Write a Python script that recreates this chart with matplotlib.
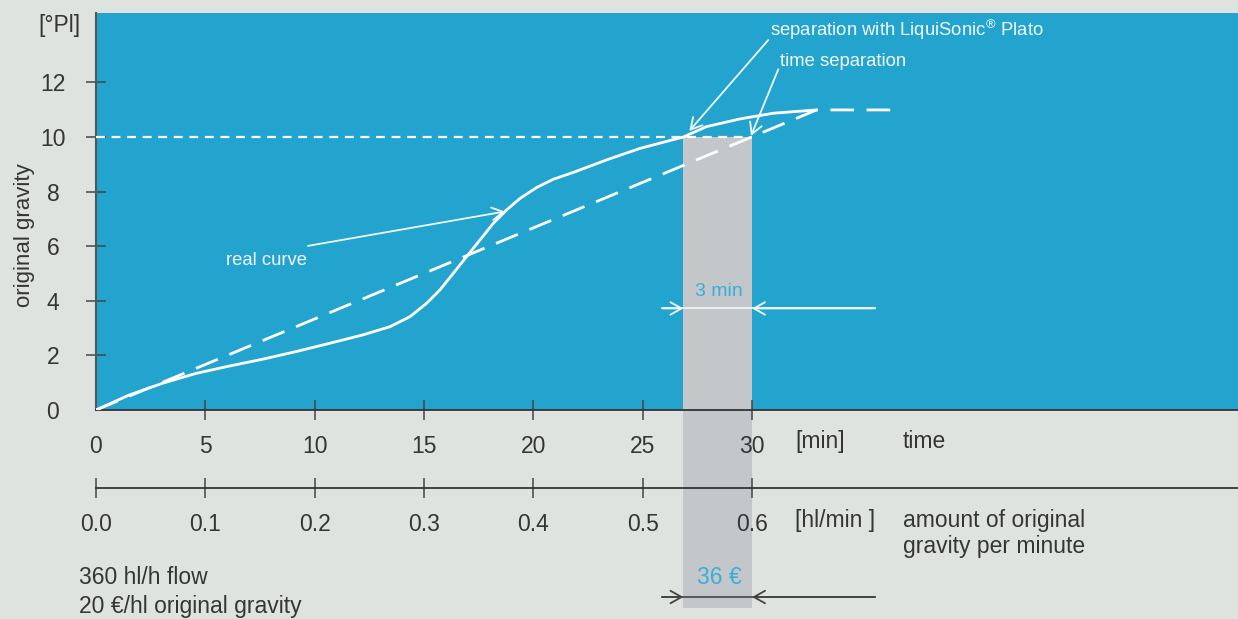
import matplotlib
matplotlib.use('Agg')
import matplotlib.pyplot as plt

plt.rcParams['font.family'] = ['Liberation Sans', 'DejaVu Sans']
plt.rcParams['mathtext.fontset'] = 'custom'
plt.rcParams['mathtext.rm'] = 'Liberation Sans'

# original gravity during lautering, [min] vs [°Pl]
t_real = [0, 1.52, 3.05, 4.57, 6.1, 7.62, 9.15, 10.67, 12.2, 13.44, 14.36,
          15.12, 15.73, 16.34, 16.95, 17.56, 18.17, 18.78, 19.39, 20.15,
          20.91, 21.82, 23.35, 24.87, 26.86, 27.92, 29.45, 30.97, 32.95]
og_real = [0, 0.55, 0.98, 1.34, 1.61, 1.86, 2.14, 2.44, 2.75, 3.05, 3.42,
           3.91, 4.40, 5.01, 5.62, 6.23, 6.84, 7.33, 7.75, 8.15,
           8.45, 8.70, 9.16, 9.58, 10.0, 10.38, 10.66, 10.87, 10.99]
# assumed linear rise used for time based separation
t_linear = [0, 32.95, 36.4]
og_linear = [0, 10.99, 10.99]

og_target = 10
t_sep_sensor = 26.86   # real curve reaches target
t_sep_time = 30.0      # fixed time separation

y_ticks = [0, 2, 4, 6, 8, 10, 12]
min_ticks = [0, 5, 10, 15, 20, 25, 30]
flow_ticks = [0.0, 0.1, 0.2, 0.3, 0.4, 0.5, 0.6]
min_per_flow = 50.0    # 0.1 hl/min per 5 min

BG = '#dfe3e0'
BLUE = '#22a4cf'
BAND = '#c4c7ca'
INK = '#353535'
WHITE = '#f2f9fc'
TXTBLUE = '#3aaedb'
FS = 16.5
FS_NOTE = 13.3

fig = plt.figure(figsize=(12.38, 6.19), dpi=100, facecolor=BG)
ax = fig.add_axes([96 / 1238, 209 / 619, 1142 / 1238, 397 / 619])
ax.set_facecolor(BLUE)
ax.set_xlim(0, 52.22)
ax.set_ylim(0, 14.54)

for s in ['top', 'right']:
    ax.spines[s].set_visible(False)
ax.spines['left'].set_color('#555555')
ax.spines['left'].set_linewidth(1.5)
ax.spines['bottom'].set_color('#333333')
ax.spines['bottom'].set_linewidth(1.3)

# y axis
ax.set_yticks(y_ticks)
ax.set_yticklabels([str(v) for v in y_ticks], ha='center')
ax.tick_params(axis='y', direction='inout', length=14, width=1.1, color='#444444',
               labelsize=FS, labelcolor=INK, pad=24)
ax.yaxis.get_major_ticks()[0].tick1line.set_visible(False)

# time axis
ax.set_xticks(min_ticks)
ax.set_xticklabels([str(v) for v in min_ticks])
ax.tick_params(axis='x', direction='inout', length=14, width=1.1, color='#444444',
               labelsize=FS, labelcolor=INK, pad=11)
ax.xaxis.get_major_ticks()[0].tick1line.set_visible(False)

# flow axis below
sec = ax.secondary_xaxis(-0.1965, functions=(lambda m: m / min_per_flow,
                                             lambda q: q * min_per_flow))
sec.set_xticks(flow_ticks)
sec.set_xticklabels(['%.1f' % v for v in flow_ticks])
sec.spines['bottom'].set_color('#333333')
sec.spines['bottom'].set_linewidth(1.3)
sec.tick_params(direction='inout', length=14, width=1.1, color='#444444',
                labelsize=FS, labelcolor=INK, pad=11)
sec.set_zorder(3)

# gap between both separation points
ax.fill_between([t_sep_sensor, t_sep_time], [og_target, og_target], [-7.25, -7.25],
                color=BAND, lw=0, zorder=0.8, clip_on=False)

ax.plot([0, t_sep_time], [og_target, og_target], color='white', lw=1.6,
        linestyle=(0, (4.0, 3.0)), zorder=3)
ax.plot(t_linear, og_linear, color='white', lw=2.0, linestyle=(0, (8.5, 4.5)),
        zorder=3)
ax.plot(t_real, og_real, color='white', lw=2.0, solid_joinstyle='round',
        solid_capstyle='round', zorder=4)

arrow_w = dict(arrowstyle='->,head_length=0.8,head_width=0.45', color=WHITE,
               lw=1.3, mutation_scale=10, shrinkA=0, shrinkB=0)
ax.annotate('', xy=(18.7, 7.27), xytext=(9.69, 6.01), arrowprops=arrow_w)
ax.text(5.93, 5.47, 'real curve', color=WHITE, fontsize=FS_NOTE, ha='left',
        va='center', zorder=5)

ax.annotate('', xy=(27.13, 10.22), xytext=(30.74, 13.55), arrowprops=arrow_w,
            annotation_clip=False)
ax.text(30.83, 13.92, r'separation with LiquiSonic$^{\mathrm{®}}$ Plato',
        color=WHITE, fontsize=FS_NOTE, ha='left', va='center')
ax.annotate('', xy=(29.95, 10.04), xytext=(31.2, 12.48), arrowprops=arrow_w,
            annotation_clip=False)
ax.text(31.28, 12.75, 'time separation', color=WHITE, fontsize=FS_NOTE,
        ha='left', va='center')

# 3 min dimension
dim_y = 3.72
ax.plot([25.9, 35.62], [dim_y, dim_y], color=WHITE, lw=1.2, zorder=3)
ax.annotate('', xy=(t_sep_sensor, dim_y), xytext=(25.9, dim_y), arrowprops=arrow_w)
ax.annotate('', xy=(t_sep_time, dim_y), xytext=(35.62, dim_y), arrowprops=arrow_w)
ax.text(28.5, 4.33, '3 min', color=TXTBLUE, fontsize=14, ha='center', va='center')

# cost dimension
cost_y = -6.85
arrow_k = dict(arrow_w, color='#444444')
ax.plot([25.9, 35.62], [cost_y, cost_y], color='#444444', lw=1.2, clip_on=False)
ax.annotate('', xy=(t_sep_sensor, cost_y), xytext=(25.9, cost_y),
            arrowprops=arrow_k, annotation_clip=False)
ax.annotate('', xy=(t_sep_time, cost_y), xytext=(35.62, cost_y),
            arrowprops=arrow_k, annotation_clip=False)
ax.text(28.5, -6.15, '36 €', color=TXTBLUE, fontsize=FS, ha='center', va='center')

# axis texts
ax.text(-1.65, 14.1, '[°Pl]', color=INK, fontsize=FS, ha='center', va='center')
ax.text(-3.25, 6.4, 'original gravity', color=INK, fontsize=16, rotation=90,
        ha='center', va='center')
ax.text(31.96, -1.17, '[min]', color=INK, fontsize=FS, ha='left', va='center')
ax.text(36.9, -1.17, 'time', color=INK, fontsize=FS, ha='left', va='center')
ax.text(31.96, -4.03, '[hl/min ]', color=INK, fontsize=FS, ha='left', va='center')
ax.text(36.9, -4.03, 'amount of original', color=INK, fontsize=FS, ha='left',
        va='center')
ax.text(36.9, -5.0, 'gravity per minute', color=INK, fontsize=FS, ha='left',
        va='center')
ax.text(-0.78, -6.15, '360 hl/h flow', color=INK, fontsize=FS, ha='left',
        va='center')
ax.text(-0.78, -7.18, '20 €/hl original gravity', color=INK, fontsize=FS,
        ha='left', va='center')

fig.savefig('out.png', dpi=100, facecolor=BG)
